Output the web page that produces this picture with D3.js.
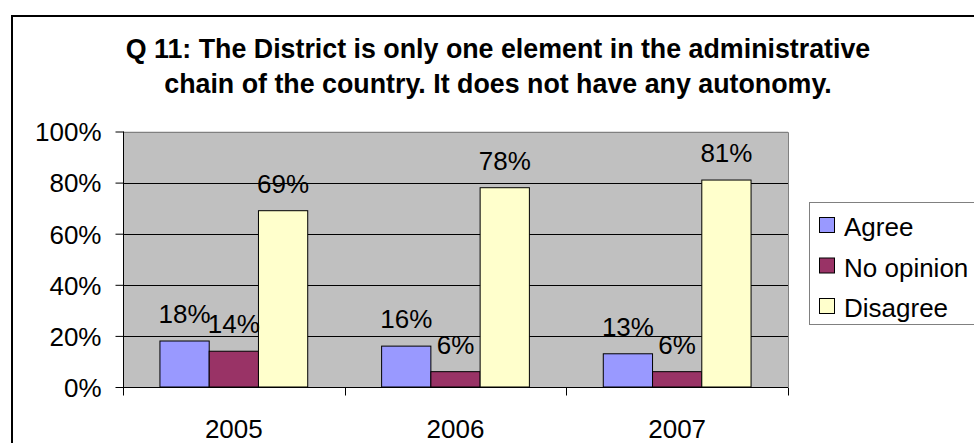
<!DOCTYPE html>
<html>
<head>
<meta charset="utf-8">
<script src="https://cdn.jsdelivr.net/npm/d3@7/dist/d3.min.js"></script>
<style>
  html, body { margin: 0; padding: 0; background: #fff; }
  svg { display: block; font-family: "Liberation Sans", Arial, sans-serif; }
</style>
</head>
<body>
<svg id="chart" width="974" height="443"></svg>
<script>
// Survey results, share of respondents per answer
const years = ["2005", "2006", "2007"];
const seriesNames = ["Agree", "No opinion", "Disagree"];
const agree = [0.18, 0.16, 0.13];
const noOpinion = [0.14, 0.06, 0.06];
const disagree = [0.69, 0.78, 0.81];
const yTicks = [0, 0.2, 0.4, 0.6, 0.8, 1.0];
const titleLines = [
  "Q 11: The District is only one element in the administrative",
  "chain of the country. It does not have any autonomy."
];
const colors = ["#9999FF", "#993366", "#FFFFCC"];

const seriesValues = [agree, noOpinion, disagree];
const FS = 26;

const svg = d3.select("#chart");

// outer chart frame (runs off the right and bottom edges)
svg.append("rect")
  .attr("x", 12).attr("y", 16)
  .attr("width", 1000).attr("height", 500)
  .attr("fill", "#fff")
  .attr("stroke", "#000").attr("stroke-width", 2);

const plot = { left: 123, right: 788, top: 131.5, bottom: 387 };

const x = d3.scaleBand().domain(years).range([plot.left, plot.right]);
const xs = d3.scaleBand().domain(seriesNames).range([0, x.bandwidth()])
  .paddingInner(0).paddingOuter(0.75);
const y = d3.scaleLinear().domain([0, 1]).range([plot.bottom, plot.top]);
const color = d3.scaleOrdinal().domain(seriesNames).range(colors);

// title
svg.append("g").selectAll("text")
  .data(titleLines)
  .join("text")
  .attr("x", 498)
  .attr("y", (d, i) => 58 + i * 35)
  .attr("text-anchor", "middle")
  .attr("font-size", 26.8)
  .attr("font-weight", "bold")
  .attr("fill", "#000")
  .text(d => d);

// plot background
svg.append("rect")
  .attr("x", plot.left).attr("y", plot.top)
  .attr("width", plot.right - plot.left).attr("height", plot.bottom - plot.top)
  .attr("fill", "#C0C0C0");

// gridlines
svg.append("g").selectAll("line")
  .data(yTicks.filter(t => t > 0 && t < 1))
  .join("line")
  .attr("x1", plot.left).attr("x2", plot.right)
  .attr("y1", d => Math.round(y(d)) + 0.5).attr("y2", d => Math.round(y(d)) + 0.5)
  .attr("stroke", "#000").attr("stroke-width", 1);

// plot border (top and right)
svg.append("path")
  .attr("d", `M${plot.left},${Math.round(plot.top) + 0.5}H${Math.round(plot.right) + 0.5}V${plot.bottom}`)
  .attr("fill", "none").attr("stroke", "#808080").attr("stroke-width", 1);

// bars
const groups = svg.append("g").selectAll("g")
  .data(years)
  .join("g")
  .attr("transform", d => `translate(${x(d)},0)`);

groups.selectAll("rect")
  .data((yr, i) => seriesNames.map((s, k) => ({ s, v: seriesValues[k][i] })))
  .join("rect")
  .attr("x", d => xs(d.s))
  .attr("y", d => y(d.v))
  .attr("width", xs.bandwidth())
  .attr("height", d => y(0) - y(d.v))
  .attr("fill", d => color(d.s))
  .attr("stroke", "#000").attr("stroke-width", 1);

groups.selectAll("text")
  .data((yr, i) => seriesNames.map((s, k) => ({ s, v: seriesValues[k][i] })))
  .join("text")
  .attr("x", d => xs(d.s) + xs.bandwidth() / 2)
  .attr("y", d => y(d.v) - 18)
  .attr("text-anchor", "middle")
  .attr("font-size", FS)
  .attr("fill", "#000")
  .text(d => d3.format(".0%")(d.v));

// y axis
const yAxis = svg.append("g")
  .attr("transform", `translate(${Math.round(plot.left) + 0.5},0)`)
  .call(d3.axisLeft(y).tickValues(yTicks).tickFormat(d3.format(".0%")).tickSize(8).tickPadding(14));
yAxis.select(".domain").attr("stroke", "#000").attr("d", `M0,${plot.top}V${plot.bottom + 8}`);
yAxis.selectAll(".tick line").attr("stroke", "#000");
yAxis.selectAll("text")
  .attr("font-size", FS).attr("font-family", "Liberation Sans, Arial, sans-serif")
  .attr("fill", "#000").attr("dy", "0.36em");

// x axis with ticks at category boundaries
const xAxisG = svg.append("g")
  .attr("transform", `translate(0,${Math.round(plot.bottom) + 0.5})`);
xAxisG.append("line")
  .attr("x1", plot.left).attr("x2", plot.right)
  .attr("stroke", "#000");
const boundaries = years.map(d => x(d)).concat([x(years[years.length - 1]) + x.bandwidth()]);
xAxisG.selectAll("line.tk")
  .data(boundaries)
  .join("line").attr("class", "tk")
  .attr("x1", d => Math.round(d) + 0.5).attr("x2", d => Math.round(d) + 0.5)
  .attr("y1", 0).attr("y2", 8)
  .attr("stroke", "#000");
xAxisG.selectAll("text")
  .data(years)
  .join("text")
  .attr("x", d => x(d) + x.bandwidth() / 2)
  .attr("y", 50)
  .attr("text-anchor", "middle")
  .attr("font-size", FS)
  .attr("fill", "#000")
  .text(d => d);

// legend
const legend = svg.append("g").attr("transform", "translate(809.5,202.5)");
legend.append("rect")
  .attr("width", 200).attr("height", 122)
  .attr("fill", "#fff").attr("stroke", "#808080");
const items = legend.selectAll("g.item")
  .data(seriesNames)
  .join("g").attr("class", "item")
  .attr("transform", (d, i) => `translate(0,${i * 40.5})`);
items.append("rect")
  .attr("x", 10).attr("y", 15)
  .attr("width", 15).attr("height", 15)
  .attr("fill", d => color(d)).attr("stroke", "#000");
items.append("text")
  .attr("x", 34.5).attr("y", 33.5)
  .attr("font-size", FS)
  .attr("fill", "#000")
  .text(d => d);
</script>
</body>
</html>
